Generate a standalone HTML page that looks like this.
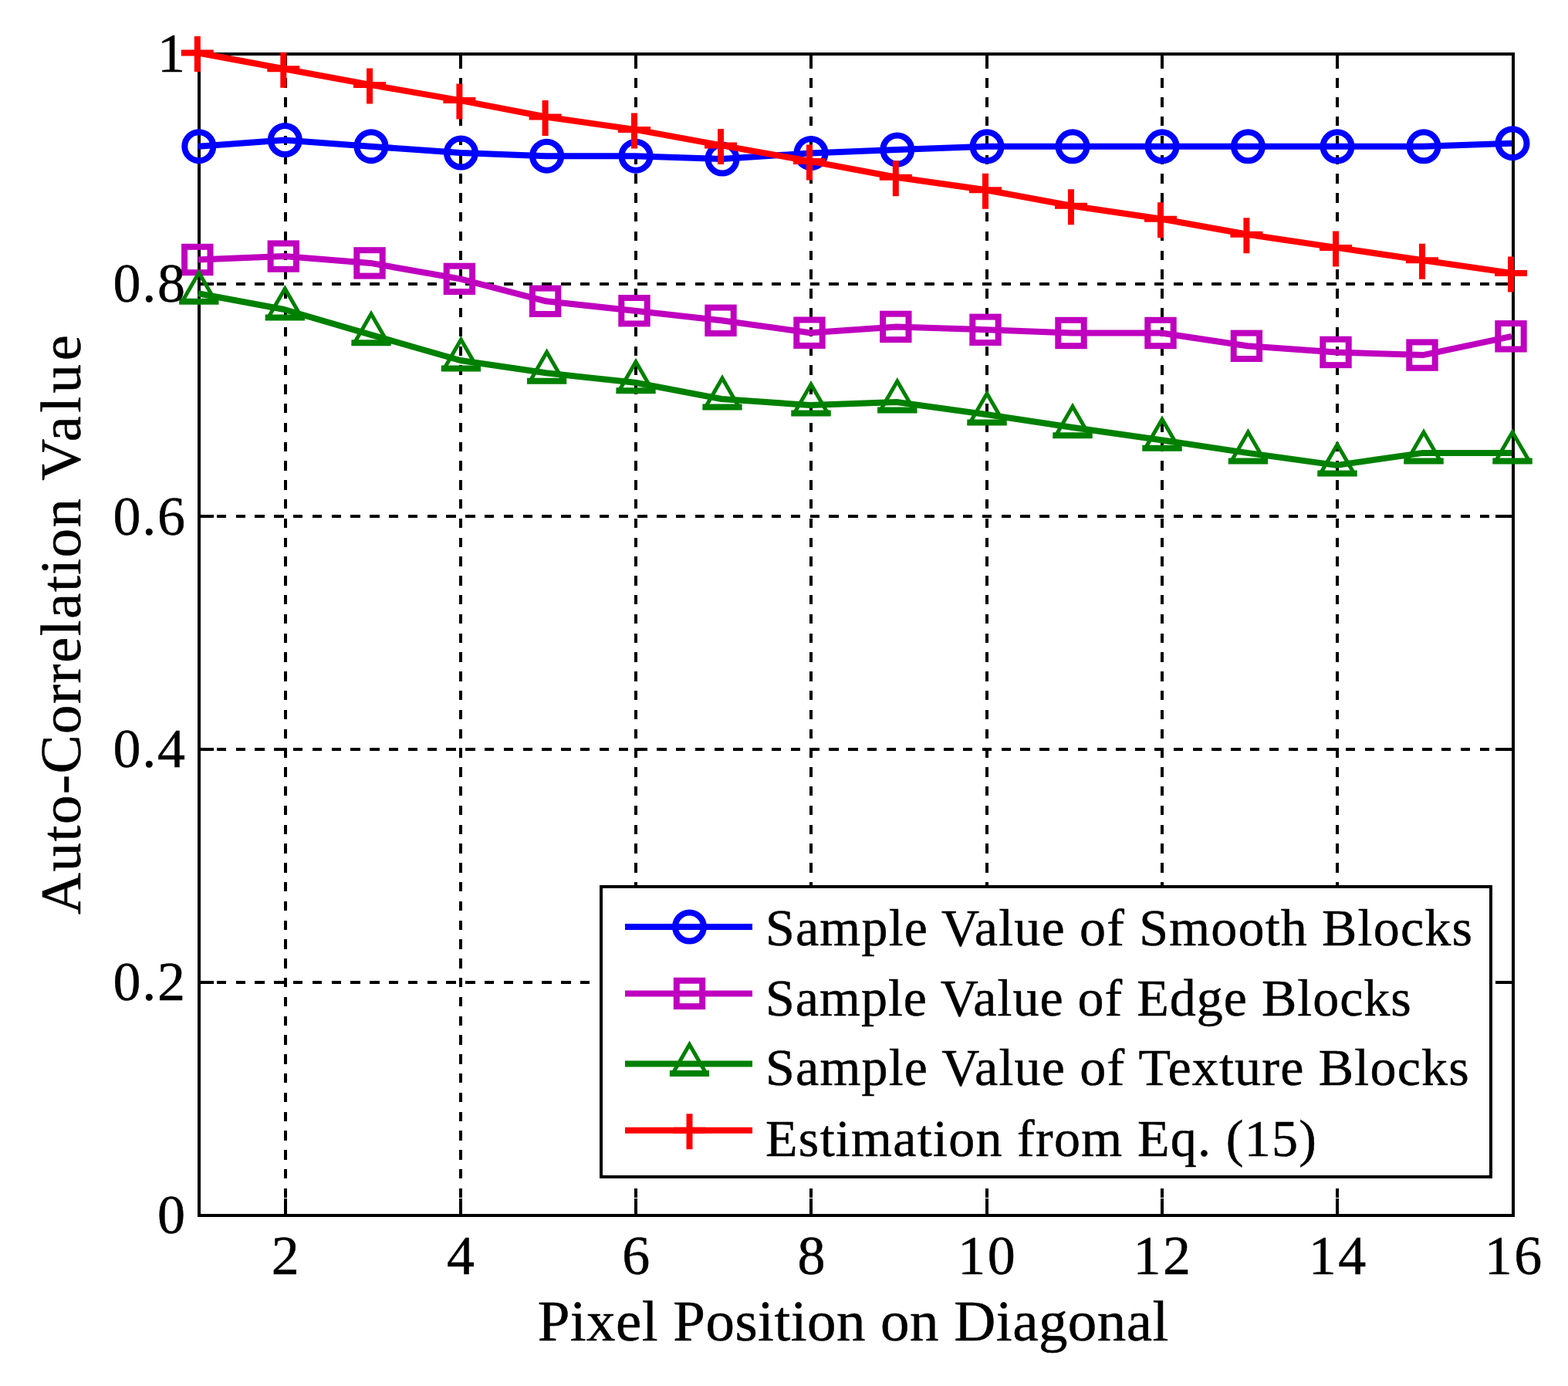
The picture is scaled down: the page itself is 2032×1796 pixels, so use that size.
<!DOCTYPE html>
<html><head><meta charset="utf-8"><title>Auto-Correlation Value chart</title>
<style>html,body{margin:0;padding:0;background:#fff;}svg{display:block;}</style>
</head><body>
<svg width="2032" height="1796" viewBox="0 0 2032 1796">
<rect width="2032" height="1796" fill="#fff"/>
<g stroke="#000" stroke-width="4" stroke-dasharray="12.4 12.4" fill="none" shape-rendering="crispEdges">
<line x1="369.8" y1="1577" x2="369.8" y2="70"/>
<line x1="597.0" y1="1577" x2="597.0" y2="70"/>
<line x1="824.2" y1="1577" x2="824.2" y2="70"/>
<line x1="1051.4" y1="1577" x2="1051.4" y2="70"/>
<line x1="1278.6" y1="1577" x2="1278.6" y2="70"/>
<line x1="1505.8" y1="1577" x2="1505.8" y2="70"/>
<line x1="1733.0" y1="1577" x2="1733.0" y2="70"/>
<line x1="256" y1="1273" x2="1961" y2="1273"/>
<line x1="256" y1="971" x2="1961" y2="971"/>
<line x1="256" y1="669" x2="1961" y2="669"/>
<line x1="256" y1="368" x2="1961" y2="368"/>
</g>
<g stroke="#000" stroke-width="4" fill="none" shape-rendering="crispEdges">
<line x1="369.8" y1="1575" x2="369.8" y2="1553"/>
<line x1="369.8" y1="70" x2="369.8" y2="89"/>
<line x1="597.0" y1="1575" x2="597.0" y2="1553"/>
<line x1="597.0" y1="70" x2="597.0" y2="89"/>
<line x1="824.2" y1="1575" x2="824.2" y2="1553"/>
<line x1="824.2" y1="70" x2="824.2" y2="89"/>
<line x1="1051.4" y1="1575" x2="1051.4" y2="1553"/>
<line x1="1051.4" y1="70" x2="1051.4" y2="89"/>
<line x1="1278.6" y1="1575" x2="1278.6" y2="1553"/>
<line x1="1278.6" y1="70" x2="1278.6" y2="89"/>
<line x1="1505.8" y1="1575" x2="1505.8" y2="1553"/>
<line x1="1505.8" y1="70" x2="1505.8" y2="89"/>
<line x1="1733.0" y1="1575" x2="1733.0" y2="1553"/>
<line x1="1733.0" y1="70" x2="1733.0" y2="89"/>
<line x1="1961.0" y1="1575" x2="1961.0" y2="1553"/>
<line x1="1961.0" y1="70" x2="1961.0" y2="89"/>
<line x1="258" y1="1273" x2="277" y2="1273"/>
<line x1="1961" y1="1273" x2="1938" y2="1273"/>
<line x1="258" y1="971" x2="277" y2="971"/>
<line x1="1961" y1="971" x2="1938" y2="971"/>
<line x1="258" y1="669" x2="277" y2="669"/>
<line x1="1961" y1="669" x2="1938" y2="669"/>
<line x1="258" y1="368" x2="277" y2="368"/>
<line x1="1961" y1="368" x2="1938" y2="368"/>
<rect x="258" y="70" width="1703" height="1505"/>
</g>
<polyline points="256.8,189.7 368.3,181.5 480.0,189.7 596.4,198.1 707.6,202.2 823.0,202.2 935.0,206.0 1050.0,198.5 1161.8,194.0 1278.0,189.8 1389.0,189.8 1505.0,189.8 1616.4,189.8 1732.0,189.8 1844.0,189.8 1959.0,185.7" fill="none" stroke="#0000ff" stroke-width="8" stroke-linejoin="round"/>
<circle cx="257.8" cy="189.7" r="18.5" fill="none" stroke="#0000ff" stroke-width="8"/>
<circle cx="369.3" cy="181.5" r="18.5" fill="none" stroke="#0000ff" stroke-width="8"/>
<circle cx="481.0" cy="189.7" r="18.5" fill="none" stroke="#0000ff" stroke-width="8"/>
<circle cx="597.4" cy="198.1" r="18.5" fill="none" stroke="#0000ff" stroke-width="8"/>
<circle cx="708.6" cy="202.2" r="18.5" fill="none" stroke="#0000ff" stroke-width="8"/>
<circle cx="824.0" cy="202.2" r="18.5" fill="none" stroke="#0000ff" stroke-width="8"/>
<circle cx="936.0" cy="206" r="18.5" fill="none" stroke="#0000ff" stroke-width="8"/>
<circle cx="1051.0" cy="198.5" r="18.5" fill="none" stroke="#0000ff" stroke-width="8"/>
<circle cx="1162.8" cy="194" r="18.5" fill="none" stroke="#0000ff" stroke-width="8"/>
<circle cx="1279.0" cy="189.8" r="18.5" fill="none" stroke="#0000ff" stroke-width="8"/>
<circle cx="1390.0" cy="189.8" r="18.5" fill="none" stroke="#0000ff" stroke-width="8"/>
<circle cx="1506.0" cy="189.8" r="18.5" fill="none" stroke="#0000ff" stroke-width="8"/>
<circle cx="1617.4" cy="189.8" r="18.5" fill="none" stroke="#0000ff" stroke-width="8"/>
<circle cx="1733.0" cy="189.8" r="18.5" fill="none" stroke="#0000ff" stroke-width="8"/>
<circle cx="1845.0" cy="189.8" r="18.5" fill="none" stroke="#0000ff" stroke-width="8"/>
<circle cx="1960.0" cy="185.7" r="18.5" fill="none" stroke="#0000ff" stroke-width="8"/>
<polyline points="256.8,336.5 368.3,332.1 480.0,340.9 596.4,361.4 707.6,390.3 823.0,402.7 935.0,415.3 1050.0,431.2 1161.8,423.4 1278.0,427.3 1389.0,431.5 1505.0,431.5 1616.4,448.3 1732.0,456.4 1844.0,460.1 1959.0,435.8" fill="none" stroke="#bf00bf" stroke-width="8" stroke-linejoin="round"/>
<rect x="239.1" y="319.8" width="33.4" height="33.4" fill="none" stroke="#bf00bf" stroke-width="8"/>
<rect x="350.6" y="315.4" width="33.4" height="33.4" fill="none" stroke="#bf00bf" stroke-width="8"/>
<rect x="462.3" y="324.2" width="33.4" height="33.4" fill="none" stroke="#bf00bf" stroke-width="8"/>
<rect x="578.7" y="344.7" width="33.4" height="33.4" fill="none" stroke="#bf00bf" stroke-width="8"/>
<rect x="689.9" y="373.6" width="33.4" height="33.4" fill="none" stroke="#bf00bf" stroke-width="8"/>
<rect x="805.3" y="386.0" width="33.4" height="33.4" fill="none" stroke="#bf00bf" stroke-width="8"/>
<rect x="917.3" y="398.6" width="33.4" height="33.4" fill="none" stroke="#bf00bf" stroke-width="8"/>
<rect x="1032.3" y="414.5" width="33.4" height="33.4" fill="none" stroke="#bf00bf" stroke-width="8"/>
<rect x="1144.1" y="406.7" width="33.4" height="33.4" fill="none" stroke="#bf00bf" stroke-width="8"/>
<rect x="1260.3" y="410.6" width="33.4" height="33.4" fill="none" stroke="#bf00bf" stroke-width="8"/>
<rect x="1371.3" y="414.8" width="33.4" height="33.4" fill="none" stroke="#bf00bf" stroke-width="8"/>
<rect x="1487.3" y="414.8" width="33.4" height="33.4" fill="none" stroke="#bf00bf" stroke-width="8"/>
<rect x="1598.7" y="431.6" width="33.4" height="33.4" fill="none" stroke="#bf00bf" stroke-width="8"/>
<rect x="1714.3" y="439.7" width="33.4" height="33.4" fill="none" stroke="#bf00bf" stroke-width="8"/>
<rect x="1826.3" y="443.4" width="33.4" height="33.4" fill="none" stroke="#bf00bf" stroke-width="8"/>
<rect x="1941.3" y="419.1" width="33.4" height="33.4" fill="none" stroke="#bf00bf" stroke-width="8"/>
<polyline points="256.8,380.2 368.3,401.0 480.0,433.7 596.4,467.0 707.6,483.3 823.0,495.8 935.0,517.0 1050.0,525.0 1161.8,521.0 1278.0,537.0 1389.0,553.7 1505.0,570.2 1616.4,586.9 1732.0,602.9 1844.0,586.9 1959.0,586.9" fill="none" stroke="#008000" stroke-width="8" stroke-linejoin="round"/>
<polygon points="257.8,353.2 236.2,390.7 279.4,390.7" fill="none" stroke="#008000" stroke-width="5" stroke-linejoin="miter"/><path d="M232.2 390.7H283.4" stroke="#008000" stroke-width="8"/>
<polygon points="369.3,374.0 347.7,411.5 390.9,411.5" fill="none" stroke="#008000" stroke-width="5" stroke-linejoin="miter"/><path d="M343.7 411.5H394.9" stroke="#008000" stroke-width="8"/>
<polygon points="481.0,406.7 459.4,444.2 502.6,444.2" fill="none" stroke="#008000" stroke-width="5" stroke-linejoin="miter"/><path d="M455.4 444.2H506.6" stroke="#008000" stroke-width="8"/>
<polygon points="597.4,440.0 575.8,477.5 619.0,477.5" fill="none" stroke="#008000" stroke-width="5" stroke-linejoin="miter"/><path d="M571.8 477.5H623.0" stroke="#008000" stroke-width="8"/>
<polygon points="708.6,456.3 687.0,493.8 730.2,493.8" fill="none" stroke="#008000" stroke-width="5" stroke-linejoin="miter"/><path d="M683.0 493.8H734.2" stroke="#008000" stroke-width="8"/>
<polygon points="824.0,468.8 802.4,506.3 845.6,506.3" fill="none" stroke="#008000" stroke-width="5" stroke-linejoin="miter"/><path d="M798.4 506.3H849.6" stroke="#008000" stroke-width="8"/>
<polygon points="936.0,490.0 914.4,527.5 957.6,527.5" fill="none" stroke="#008000" stroke-width="5" stroke-linejoin="miter"/><path d="M910.4 527.5H961.6" stroke="#008000" stroke-width="8"/>
<polygon points="1051.0,498.0 1029.3,535.5 1072.7,535.5" fill="none" stroke="#008000" stroke-width="5" stroke-linejoin="miter"/><path d="M1025.3 535.5H1076.7" stroke="#008000" stroke-width="8"/>
<polygon points="1162.8,494.0 1141.1,531.5 1184.5,531.5" fill="none" stroke="#008000" stroke-width="5" stroke-linejoin="miter"/><path d="M1137.1 531.5H1188.5" stroke="#008000" stroke-width="8"/>
<polygon points="1279.0,510.0 1257.3,547.5 1300.7,547.5" fill="none" stroke="#008000" stroke-width="5" stroke-linejoin="miter"/><path d="M1253.3 547.5H1304.7" stroke="#008000" stroke-width="8"/>
<polygon points="1390.0,526.7 1368.3,564.2 1411.7,564.2" fill="none" stroke="#008000" stroke-width="5" stroke-linejoin="miter"/><path d="M1364.3 564.2H1415.7" stroke="#008000" stroke-width="8"/>
<polygon points="1506.0,543.2 1484.3,580.7 1527.7,580.7" fill="none" stroke="#008000" stroke-width="5" stroke-linejoin="miter"/><path d="M1480.3 580.7H1531.7" stroke="#008000" stroke-width="8"/>
<polygon points="1617.4,559.9 1595.8,597.4 1639.1,597.4" fill="none" stroke="#008000" stroke-width="5" stroke-linejoin="miter"/><path d="M1591.8 597.4H1643.1" stroke="#008000" stroke-width="8"/>
<polygon points="1733.0,575.9 1711.3,613.4 1754.7,613.4" fill="none" stroke="#008000" stroke-width="5" stroke-linejoin="miter"/><path d="M1707.3 613.4H1758.7" stroke="#008000" stroke-width="8"/>
<polygon points="1845.0,559.9 1823.3,597.4 1866.7,597.4" fill="none" stroke="#008000" stroke-width="5" stroke-linejoin="miter"/><path d="M1819.3 597.4H1870.7" stroke="#008000" stroke-width="8"/>
<polygon points="1960.0,559.9 1938.3,597.4 1981.7,597.4" fill="none" stroke="#008000" stroke-width="5" stroke-linejoin="miter"/><path d="M1934.3 597.4H1985.7" stroke="#008000" stroke-width="8"/>
<polyline points="256.8,68.5 368.3,89.3 480.0,109.9 596.4,130.1 707.6,151.5 823.0,167.9 935.0,188.4 1050.0,208.9 1161.8,229.8 1278.0,246.2 1389.0,266.7 1505.0,283.7 1616.4,303.7 1732.0,320.9 1844.0,337.2 1959.0,353.9" fill="none" stroke="#ff0000" stroke-width="8" stroke-linejoin="round"/>
<path d="M234.8 68.5H276.8M255.8 47.0V93.0" stroke="#ff0000" stroke-width="8" fill="none"/>
<path d="M346.3 89.3H388.3M367.3 67.8V113.8" stroke="#ff0000" stroke-width="8" fill="none"/>
<path d="M458.0 109.9H500.0M479.0 88.4V134.4" stroke="#ff0000" stroke-width="8" fill="none"/>
<path d="M574.4 130.1H616.4M595.4 108.6V154.6" stroke="#ff0000" stroke-width="8" fill="none"/>
<path d="M685.6 151.5H727.6M706.6 130.0V176.0" stroke="#ff0000" stroke-width="8" fill="none"/>
<path d="M801.0 167.9H843.0M822.0 146.4V192.4" stroke="#ff0000" stroke-width="8" fill="none"/>
<path d="M913.0 188.4H955.0M934.0 166.9V212.9" stroke="#ff0000" stroke-width="8" fill="none"/>
<path d="M1028.0 208.9H1070.0M1049.0 187.4V233.4" stroke="#ff0000" stroke-width="8" fill="none"/>
<path d="M1139.8 229.8H1181.8M1160.8 208.3V254.3" stroke="#ff0000" stroke-width="8" fill="none"/>
<path d="M1256.0 246.2H1298.0M1277.0 224.7V270.7" stroke="#ff0000" stroke-width="8" fill="none"/>
<path d="M1367.0 266.7H1409.0M1388.0 245.2V291.2" stroke="#ff0000" stroke-width="8" fill="none"/>
<path d="M1483.0 283.7H1525.0M1504.0 262.2V308.2" stroke="#ff0000" stroke-width="8" fill="none"/>
<path d="M1594.4 303.7H1636.4M1615.4 282.2V328.2" stroke="#ff0000" stroke-width="8" fill="none"/>
<path d="M1710.0 320.9H1752.0M1731.0 299.4V345.4" stroke="#ff0000" stroke-width="8" fill="none"/>
<path d="M1822.0 337.2H1864.0M1843.0 315.7V361.7" stroke="#ff0000" stroke-width="8" fill="none"/>
<path d="M1937.0 353.9H1979.0M1958.0 332.4V378.4" stroke="#ff0000" stroke-width="8" fill="none"/>
<rect x="779" y="1149" width="1153" height="376" fill="#fff" stroke="#000" stroke-width="4" shape-rendering="crispEdges"/>
<line x1="810" y1="1201" x2="975" y2="1201" stroke="#0000ff" stroke-width="8"/>
<circle cx="893.5" cy="1201" r="18.5" fill="none" stroke="#0000ff" stroke-width="8"/>
<text id="leg1" x="992" y="1224.6" font-family="Liberation Serif, Times New Roman, serif" font-size="68" fill="#000" stroke="#000" stroke-width="0.5" textLength="915.9" lengthAdjust="spacing">Sample Value of Smooth Blocks</text>
<line x1="810" y1="1287.4" x2="975" y2="1287.4" stroke="#bf00bf" stroke-width="8"/>
<rect x="876.8" y="1270.7" width="33.4" height="33.4" fill="none" stroke="#bf00bf" stroke-width="8"/>
<text id="leg2" x="992" y="1315.9" font-family="Liberation Serif, Times New Roman, serif" font-size="68" fill="#000" stroke="#000" stroke-width="0.5" textLength="836.8" lengthAdjust="spacing">Sample Value of Edge Blocks</text>
<line x1="810" y1="1378.4" x2="975" y2="1378.4" stroke="#008000" stroke-width="8"/>
<polygon points="893.5,1353.4 871.9,1390.9 915.1,1390.9" fill="none" stroke="#008000" stroke-width="5" stroke-linejoin="miter"/><path d="M867.9 1390.9H919.1" stroke="#008000" stroke-width="8"/>
<text id="leg3" x="992" y="1406.1" font-family="Liberation Serif, Times New Roman, serif" font-size="68" fill="#000" stroke="#000" stroke-width="0.5" textLength="911.7" lengthAdjust="spacing">Sample Value of Texture Blocks</text>
<line x1="810" y1="1464.7" x2="975" y2="1464.7" stroke="#ff0000" stroke-width="8"/>
<path d="M872.5 1464.7H914.5M893.5 1443.2V1489.2" stroke="#ff0000" stroke-width="8" fill="none"/>
<text id="leg4" x="992" y="1497.5" font-family="Liberation Serif, Times New Roman, serif" font-size="68" fill="#000" stroke="#000" stroke-width="0.5" textLength="713.9" lengthAdjust="spacing">Estimation from Eq. (15)</text>
<text id="xt2" x="369.8" y="1651" text-anchor="middle" font-family="Liberation Serif, Times New Roman, serif" font-size="72" fill="#000" stroke="#000" stroke-width="0.5">2</text>
<text id="xt4" x="597.0" y="1651" text-anchor="middle" font-family="Liberation Serif, Times New Roman, serif" font-size="72" fill="#000" stroke="#000" stroke-width="0.5">4</text>
<text id="xt6" x="824.2" y="1651" text-anchor="middle" font-family="Liberation Serif, Times New Roman, serif" font-size="72" fill="#000" stroke="#000" stroke-width="0.5">6</text>
<text id="xt8" x="1051.4" y="1651" text-anchor="middle" font-family="Liberation Serif, Times New Roman, serif" font-size="72" fill="#000" stroke="#000" stroke-width="0.5">8</text>
<text id="xt10" x="1278.6" y="1651" text-anchor="middle" font-family="Liberation Serif, Times New Roman, serif" font-size="72" fill="#000" stroke="#000" stroke-width="0.5" textLength="74.5" lengthAdjust="spacing">10</text>
<text id="xt12" x="1505.8" y="1651" text-anchor="middle" font-family="Liberation Serif, Times New Roman, serif" font-size="72" fill="#000" stroke="#000" stroke-width="0.5" textLength="74.5" lengthAdjust="spacing">12</text>
<text id="xt14" x="1733.0" y="1651" text-anchor="middle" font-family="Liberation Serif, Times New Roman, serif" font-size="72" fill="#000" stroke="#000" stroke-width="0.5" textLength="74.5" lengthAdjust="spacing">14</text>
<text id="xt16" x="1961.0" y="1651" text-anchor="middle" font-family="Liberation Serif, Times New Roman, serif" font-size="72" fill="#000" stroke="#000" stroke-width="0.5" textLength="74.5" lengthAdjust="spacing">16</text>
<text id="yt0" x="240" y="1598" text-anchor="end" font-family="Liberation Serif, Times New Roman, serif" font-size="72" fill="#000" stroke="#000" stroke-width="0.5">0</text>
<text id="yt0.2" x="240" y="1296" text-anchor="end" font-family="Liberation Serif, Times New Roman, serif" font-size="72" fill="#000" stroke="#000" stroke-width="0.5" textLength="93.5" lengthAdjust="spacing">0.2</text>
<text id="yt0.4" x="240" y="994" text-anchor="end" font-family="Liberation Serif, Times New Roman, serif" font-size="72" fill="#000" stroke="#000" stroke-width="0.5" textLength="93.5" lengthAdjust="spacing">0.4</text>
<text id="yt0.6" x="240" y="692.5" text-anchor="end" font-family="Liberation Serif, Times New Roman, serif" font-size="72" fill="#000" stroke="#000" stroke-width="0.5" textLength="93.5" lengthAdjust="spacing">0.6</text>
<text id="yt0.8" x="240" y="391" text-anchor="end" font-family="Liberation Serif, Times New Roman, serif" font-size="72" fill="#000" stroke="#000" stroke-width="0.5" textLength="93.5" lengthAdjust="spacing">0.8</text>
<text id="yt1" x="240" y="93" text-anchor="end" font-family="Liberation Serif, Times New Roman, serif" font-size="72" fill="#000" stroke="#000" stroke-width="0.5">1</text>
<text id="xl" x="1105.5" y="1737" text-anchor="middle" font-family="Liberation Serif, Times New Roman, serif" font-size="75" fill="#000" stroke="#000" stroke-width="0.5" textLength="817.7" lengthAdjust="spacing">Pixel Position on Diagonal</text>
<text id="yl1" transform="translate(104,915.5) rotate(-90)" x="0" y="0" text-anchor="middle" font-family="Liberation Serif, Times New Roman, serif" font-size="75" fill="#000" stroke="#000" stroke-width="0.5" textLength="539.2" lengthAdjust="spacing">Auto-Correlation</text>
<text id="yl2" transform="translate(104,528.5) rotate(-90)" x="0" y="0" text-anchor="middle" font-family="Liberation Serif, Times New Roman, serif" font-size="75" fill="#000" stroke="#000" stroke-width="0.5" textLength="188.6" lengthAdjust="spacing">Value</text>
</svg>
</body></html>
